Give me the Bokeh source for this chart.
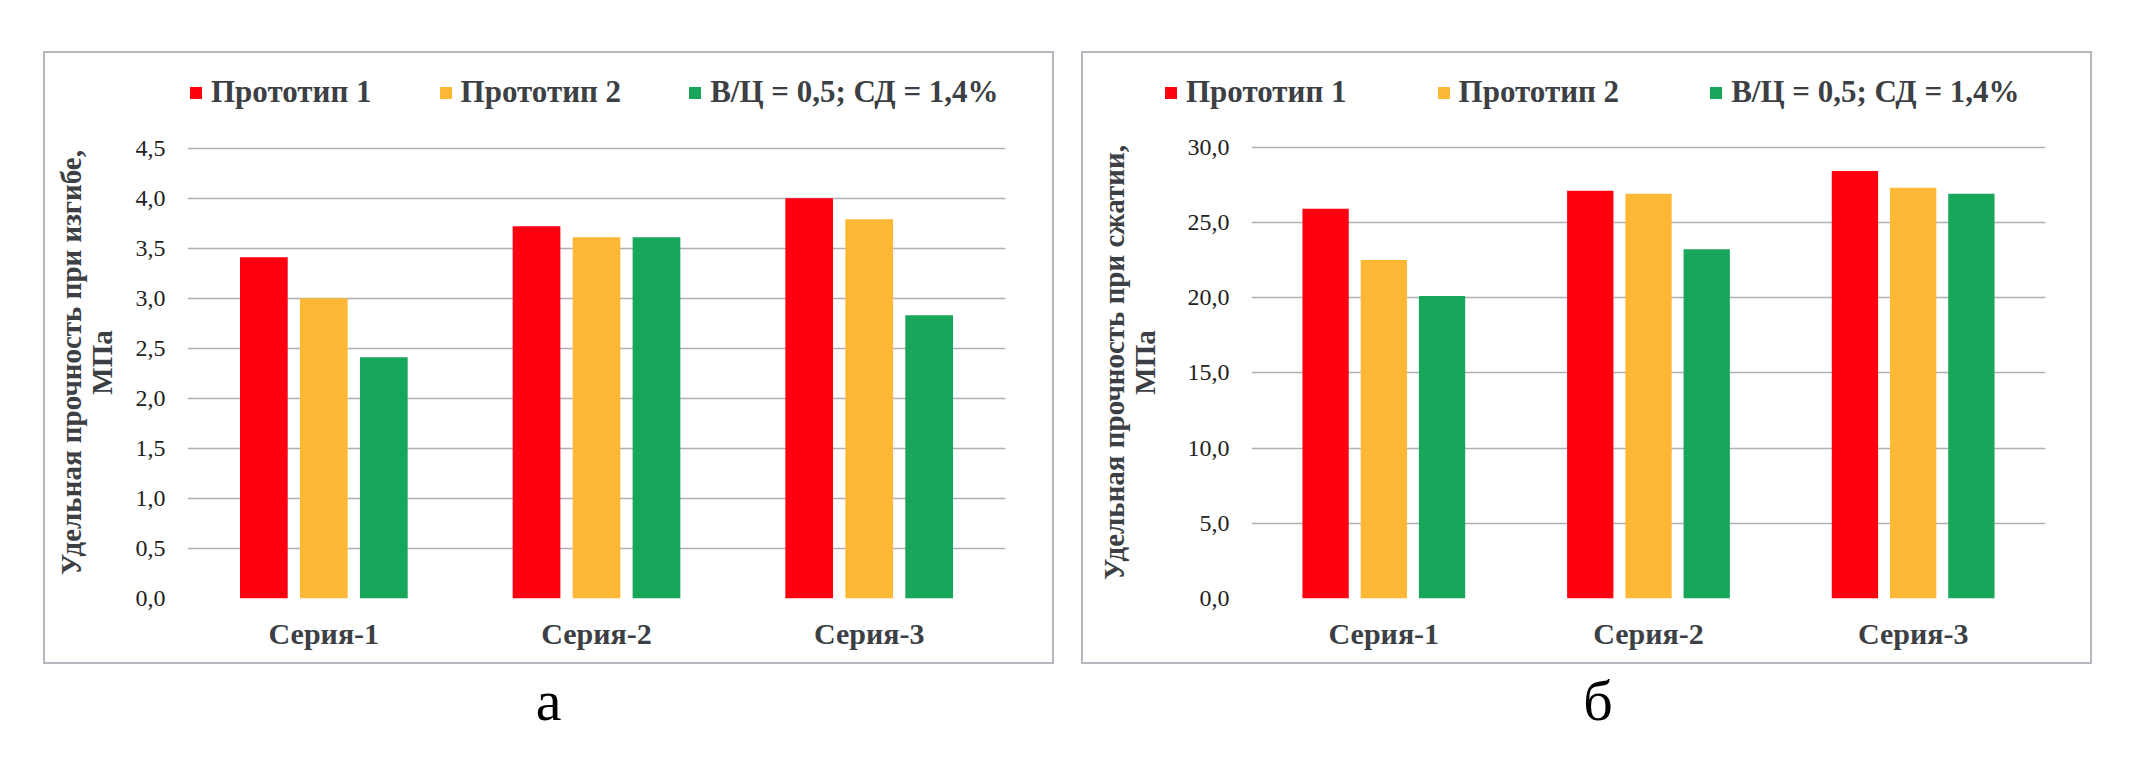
from bokeh.plotting import figure
from bokeh.models import (ColumnDataSource, FactorRange, Range1d, FixedTicker,
                          CustomJSTickFormatter, Legend, LegendItem, Div)
from bokeh.transform import dodge
from bokeh.layouts import row, column
from bokeh.embed import file_html
from bokeh.resources import INLINE

# ---------------- data ----------------
categories = ["Серия-1", "Серия-2", "Серия-3"]
series_names = ["Прототип 1", "Прототип 2", "В/Ц = 0,5; СД = 1,4%"]
series_colors = ["#ff0010", "#ffb835", "#17a65a"]

bend_proto1 = [3.41, 3.72, 4.00]
bend_proto2 = [3.00, 3.61, 3.79]
bend_vc = [2.41, 3.61, 2.83]
bend_ticks = [0.0, 0.5, 1.0, 1.5, 2.0, 2.5, 3.0, 3.5, 4.0, 4.5]
bend_ylabel = ["Удельная прочность при изгибе,", "МПа"]

comp_proto1 = [25.9, 27.1, 28.4]
comp_proto2 = [22.5, 26.9, 27.3]
comp_vc = [20.1, 23.2, 26.9]
comp_ticks = [0.0, 5.0, 10.0, 15.0, 20.0, 25.0, 30.0]
comp_ylabel = ["Удельная прочность при сжатии,", "МПа"]

captions = ["а", "б"]

# ---------------- style / layout ----------------
SERIF = "Liberation Serif"
TEXT_COL = "#3c3f44"
GRID_COL = "#aeb0b8"
BOX_COL = "#b6b7bf"
INNER_W = 1007          # canvas width inside the 2px box border
INNER_H = 609
LEG_H = 73              # legend strip height
BOTTOM = 64             # space under the plotting area
OFFSETS = [-0.22, 0.0, 0.22]
BAR_W = 0.175


def add_bars(p, src, visible=True):
    rs = []
    for i, col in enumerate(series_colors):
        rs.append(p.vbar(x=dodge("cat", OFFSETS[i], range=p.x_range), top="s%d" % i,
                         width=BAR_W, source=src, fill_color=col, line_color=None,
                         visible=visible))
    return rs


def make_legend_fig(src, ticks, g):
    lf = figure(width=INNER_W, height=LEG_H,
                x_range=FactorRange(factors=categories, range_padding=0),
                y_range=Range1d(ticks[0], ticks[-1]),
                x_axis_type=None, y_axis_type=None, min_border=0,
                min_border_left=0, min_border_right=0, min_border_top=0, min_border_bottom=0,
                output_backend="svg", toolbar_location=None)
    lf.frame_align = False
    lf.outline_line_color = None
    lf.xgrid.grid_line_color = None
    lf.ygrid.grid_line_color = None
    rs = add_bars(lf, src, visible=False)
    items = [LegendItem(label=name, renderers=[r]) for name, r in zip(series_names, rs)]
    legend = Legend(items=items, orientation="horizontal", location=(g["lx"], 16),
                    spacing=g["lsp"], padding=0, margin=0,
                    glyph_width=15, glyph_height=15, label_standoff=8,
                    label_text_font=SERIF, label_text_font_style="bold",
                    label_text_font_size="31px", label_text_color=TEXT_COL,
                    border_line_color=None, background_fill_alpha=0,
                    inactive_fill_alpha=0)
    lf.add_layout(legend, "center")
    return lf


def make_chart(src, ticks, ylabel, g):
    main_h = INNER_H - LEG_H
    # top tick sits at g["top_px"] below the box top; the frame starts at LEG_H
    span_px = (INNER_H - BOTTOM) - g["top_px"]
    y_end = ticks[-1] + (g["top_px"] - LEG_H) * (ticks[-1] - ticks[0]) / span_px
    p = figure(x_range=FactorRange(factors=categories, range_padding=0),
               y_range=Range1d(ticks[0], y_end),
               width=INNER_W, height=main_h,
               min_border_left=g["bl"], min_border_right=g["br"],
               min_border_top=0, min_border_bottom=BOTTOM,
               output_backend="svg", toolbar_location=None)
    p.frame_align = False
    p.outline_line_color = None
    p.background_fill_color = "white"
    p.border_fill_color = "white"

    add_bars(p, src)

    p.yaxis.ticker = FixedTicker(ticks=ticks)
    p.yaxis.formatter = CustomJSTickFormatter(code="return tick.toFixed(1).replace('.', ',');")
    p.yaxis.axis_line_color = None
    p.yaxis.major_tick_line_color = None
    p.yaxis.minor_tick_line_color = None
    p.yaxis.major_tick_out = 0
    p.yaxis.major_label_standoff = 22
    p.yaxis.major_label_text_font = SERIF
    p.yaxis.major_label_text_font_size = "24px"
    p.yaxis.major_label_text_color = "#222222"
    p.yaxis.axis_label = "\n".join(ylabel)
    p.yaxis.axis_label_standoff = g["yls"]
    p.yaxis.axis_label_text_font = SERIF
    p.yaxis.axis_label_text_font_style = "bold"
    p.yaxis.axis_label_text_font_size = "29px"
    p.yaxis.axis_label_text_line_height = 0.95
    p.yaxis.axis_label_text_color = TEXT_COL

    p.xaxis.axis_line_color = None
    p.xaxis.major_tick_line_color = None
    p.xaxis.major_tick_out = 0
    p.xaxis.major_label_standoff = 18
    p.xaxis.major_label_text_font = SERIF
    p.xaxis.major_label_text_font_style = "bold"
    p.xaxis.major_label_text_font_size = "30px"
    p.xaxis.major_label_text_color = TEXT_COL

    p.xgrid.grid_line_color = None
    p.ygrid.grid_line_color = GRID_COL
    p.ygrid.grid_line_width = 1.5
    return p


def caption_div(txt, pad_left):
    html = ('<div style="box-sizing:border-box;width:1011px;font-family:\'Liberation Serif\';'
            'font-size:58px;line-height:58px;text-align:center;color:#000;'
            'padding-top:8px;padding-left:%dpx;">%s</div>' % (pad_left, txt))
    return Div(text=html, width=1011, height=90, margin=0)


def panel(vals, ticks, ylabel, caption, g, margin):
    src = ColumnDataSource(dict(cat=categories, s0=vals[0], s1=vals[1], s2=vals[2]))
    box = column(make_legend_fig(src, ticks, g), make_chart(src, ticks, ylabel, g), spacing=0,
                 styles={"border": "2px solid " + BOX_COL})
    return column(box, caption_div(caption, g["cap"]), margin=margin, spacing=0)


geom_a = dict(bl=142, br=47, lx=143, lsp=66, cap=0, yls=15, top_px=94.6)
geom_b = dict(bl=168, br=45, lx=80, lsp=89, cap=23, yls=24, top_px=93.5)

col_a = panel([bend_proto1, bend_proto2, bend_vc], bend_ticks, bend_ylabel, captions[0],
              geom_a, (51, 0, 0, 43))
col_b = panel([comp_proto1, comp_proto2, comp_vc], comp_ticks, comp_ylabel, captions[1],
              geom_b, (51, 0, 0, 27))

layout = row(col_a, col_b, spacing=0)
open("out.html", "w").write(file_html(layout, INLINE, "chart"))
